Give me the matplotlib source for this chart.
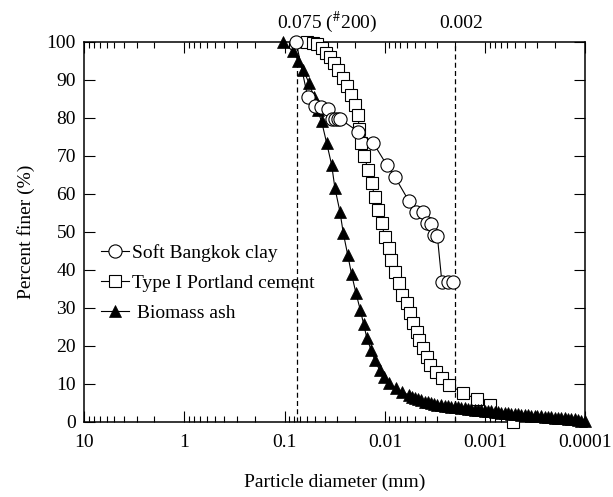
import matplotlib
matplotlib.use("Agg")
import matplotlib.pyplot as plt
from matplotlib.ticker import FixedLocator, FixedFormatter, LogLocator, NullFormatter


plt.rcParams["font.family"] = ["Liberation Serif", "DejaVu Serif"]
plt.rcParams["mathtext.fontset"] = "stix"

# particle diameter (mm) / percent finer (%)
clay_d = [0.077, 0.059, 0.050, 0.043, 0.037, 0.034, 0.0315, 0.0295, 0.0278,
          0.0184, 0.0131, 0.0096, 0.0079, 0.0058, 0.0049, 0.0042, 0.0038,
          0.0035, 0.0032, 0.0030, 0.0027, 0.00235, 0.0021]
clay_p = [100, 85.5, 83.2, 82.9, 82.3, 79.6, 79.6, 79.6, 79.6,
          76.3, 73.4, 67.6, 64.3, 58.2, 55.1, 55.1, 52.3,
          52.0, 49.2, 49.0, 36.8, 36.8, 36.8]

cement_d = [0.060, 0.0526, 0.0473, 0.0428, 0.0387, 0.0353, 0.0322, 0.0292,
            0.0264, 0.0241, 0.0219, 0.0199, 0.0186, 0.0180, 0.0174, 0.0160,
            0.0147, 0.0136, 0.0126, 0.0116, 0.0108, 0.0100, 0.0092, 0.0086,
            0.0079, 0.0073, 0.0068, 0.00606, 0.0056, 0.0052, 0.0048, 0.00454,
            0.0042, 0.00383, 0.00355, 0.00309, 0.00271, 0.00228, 0.00165,
            0.00120, 0.00090, 0.00053]
cement_p = [100, 99.7, 99.3, 98.3, 97.1, 95.9, 94.3, 92.6,
            90.4, 88.3, 86.0, 83.3, 80.7, 77.0, 73.3, 69.8,
            66.2, 62.7, 59.2, 55.7, 52.2, 48.7, 45.6, 42.6,
            39.5, 36.4, 33.3, 31.2, 28.5, 25.9, 23.7, 21.5,
            19.3, 17.1, 14.9, 13.2, 11.4, 9.7, 7.5,
            5.9, 4.3, 0.0]

ash_d = [0.105, 0.083, 0.073, 0.065, 0.057, 0.051, 0.047, 0.0428, 0.0381,
         0.034, 0.0315, 0.0281, 0.026, 0.0235, 0.0215, 0.0195, 0.0176,
         0.0163, 0.0151, 0.0137, 0.0126, 0.0113, 0.0101, 0.0090, 0.0078,
         0.0067, 0.0058, 0.0054, 0.0050, 0.0047, 0.0044, 0.0040, 0.0037,
         0.0035, 0.0032, 0.0030, 0.00275, 0.0025, 0.00235, 0.0022, 0.0020,
         0.00186, 0.00174, 0.00158, 0.00148, 0.00138, 0.00126, 0.00117,
         0.0011, 0.0010, 0.00093, 0.00087, 0.00079, 0.00074, 0.00069,
         0.00063, 0.00059, 0.00055, 0.0005, 0.00047, 0.00044, 0.0004,
         0.00037, 0.00035, 0.00032, 0.0003, 0.000275, 0.00025, 0.000235,
         0.00022, 0.0002, 0.000186, 0.000174, 0.000158, 0.000148, 0.000138,
         0.000126, 0.000117, 0.00011, 0.0001]
ash_p = [100, 97.5, 95.0, 92.5, 89.0, 85.5, 82.0, 79.0, 73.3,
         67.6, 61.4, 55.3, 49.6, 43.9, 38.8, 34.0, 29.4,
         25.7, 21.9, 18.8, 16.2, 13.6, 11.8, 10.1, 8.8,
         7.9, 7.0, 6.6, 6.2, 5.9, 5.6, 5.3, 5.1,
         4.9, 4.7, 4.5, 4.4, 4.2, 4.1, 4.0, 3.9,
         3.8, 3.6, 3.5, 3.4, 3.3, 3.2, 3.1,
         3.0, 2.9, 2.8, 2.7, 2.6, 2.5, 2.4,
         2.3, 2.2, 2.1, 2.0, 1.9, 1.85, 1.8,
         1.7, 1.6, 1.5, 1.45, 1.4, 1.3, 1.25,
         1.2, 1.1, 1.0, 0.95, 0.9, 0.8, 0.7,
         0.6, 0.5, 0.3, 0.1]

xticks = [10, 1, 0.1, 0.01, 0.001, 0.0001]
xtick_labels = ["10", "1", "0.1", "0.01", "0.001", "0.0001"]
sieve_lines = [0.075, 0.002]


fig = plt.figure(figsize=(6.13, 4.97), dpi=100)
ax = fig.add_axes([0.1375, 0.1515, 0.8173, 0.7646])

lw = 0.8
h_cem, = ax.plot(cement_d, cement_p, "-s", color="black", lw=lw, markersize=9,
                 markerfacecolor="white", markeredgecolor="black", markeredgewidth=0.8,
                 clip_on=False, label="Type I Portland cement", zorder=3)
h_ash, = ax.plot(ash_d, ash_p, "-^", color="black", lw=lw, markersize=9,
                 markerfacecolor="black", markeredgecolor="black", markeredgewidth=0.5,
                 clip_on=False, label=" Biomass ash", zorder=4)
h_clay, = ax.plot(clay_d, clay_p, "-o", color="black", lw=lw, markersize=9.5,
                  markerfacecolor="white", markeredgecolor="black", markeredgewidth=0.8,
                  clip_on=False, label="Soft Bangkok clay", zorder=5)

for d in sieve_lines:
    ax.axvline(d, color="black", lw=0.9, linestyle=(0, (4, 2.6)), zorder=1)

ax.annotate(r"0.075 ($^{\#}$200)", xy=(0.075, 1), xycoords=("data", "axes fraction"),
            xytext=(-14.2, 10), textcoords="offset points", ha="left", va="baseline",
            fontsize=14)
ax.annotate("0.002", xy=(0.002, 1), xycoords=("data", "axes fraction"),
            xytext=(4.7, 10), textcoords="offset points", ha="center", va="baseline",
            fontsize=14)

ax.set_xscale("log")
ax.set_xlim(10, 0.0001)
ax.set_ylim(0, 100)
ax.xaxis.set_major_locator(FixedLocator(xticks))
ax.xaxis.set_major_formatter(FixedFormatter(xtick_labels))
ax.xaxis.set_minor_locator(LogLocator(base=10, subs=range(2, 10), numticks=20))
ax.xaxis.set_minor_formatter(NullFormatter())
ax.set_yticks(range(0, 101, 10))

ax.tick_params(which="both", direction="in", top=True, right=True, labelsize=14, width=0.8)
ax.tick_params(which="major", length=8)
ax.tick_params(which="minor", length=4.3)
ax.tick_params(axis="x", pad=8.5)
ax.tick_params(axis="y", pad=6)
for s in ax.spines.values():
    s.set_linewidth(1.1)

ax.set_xlabel("Particle diameter (mm)", fontsize=14, labelpad=17)
ax.set_ylabel("Percent finer (%)", fontsize=14, labelpad=8)

ax.legend(handles=[h_clay, h_cem, h_ash], loc="center left", bbox_to_anchor=(0.033, 0.365),
          frameon=False, fontsize=14, borderpad=0, borderaxespad=0, handlelength=1.45,
          handletextpad=0.15, labelspacing=0.62)

fig.savefig("out.png", dpi=100)
